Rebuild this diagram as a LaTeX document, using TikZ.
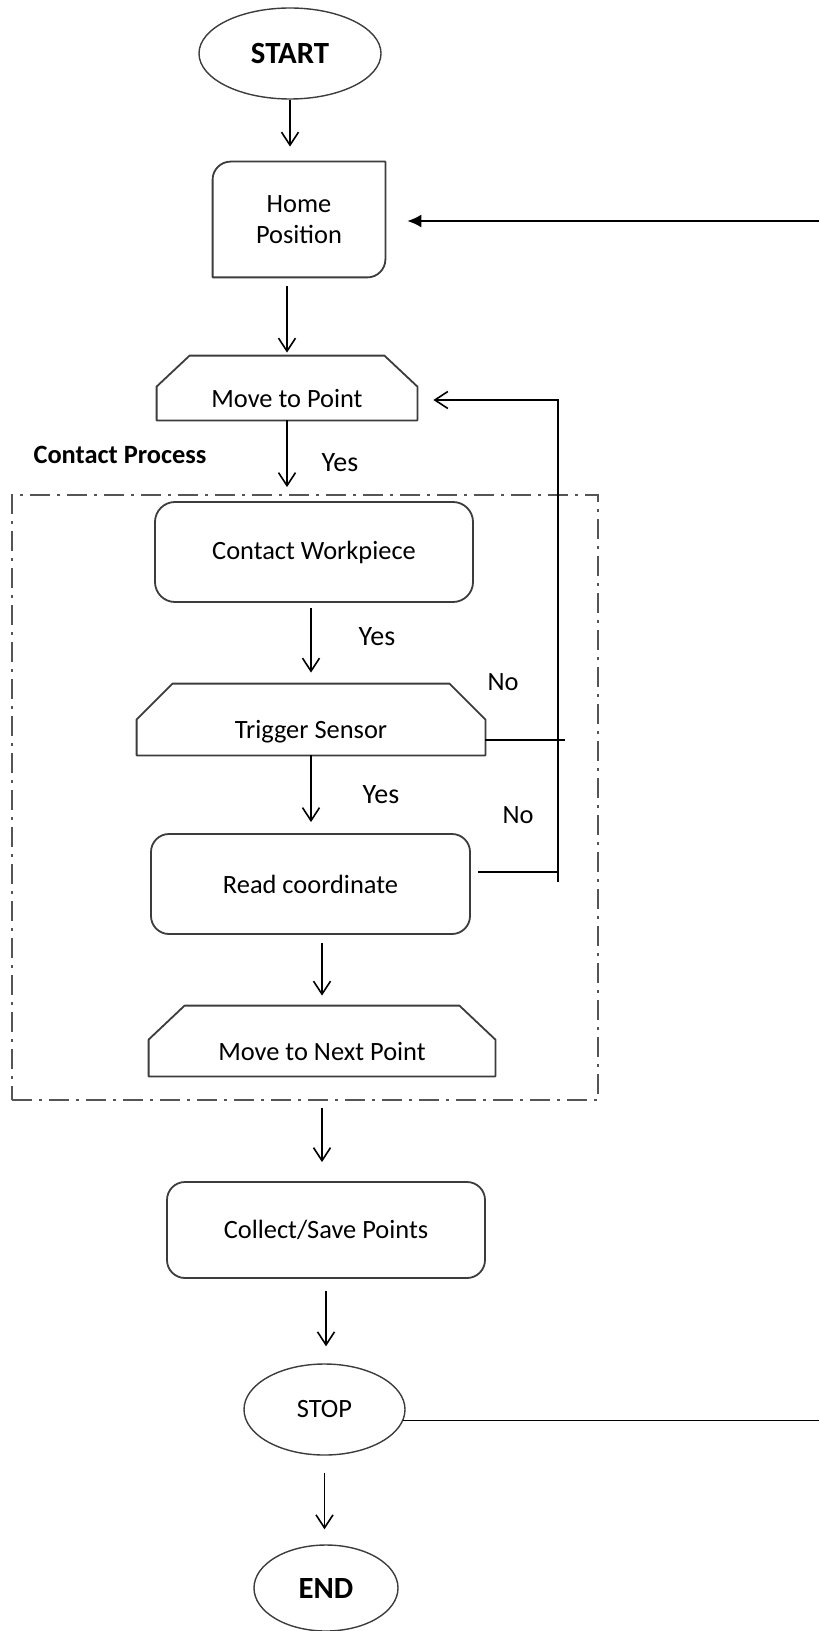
\documentclass[tikz,border=0pt]{standalone}
\usepackage{fontspec}
\setmainfont{Carlito}
\usetikzlibrary{arrows.meta, calc, shapes.geometric}
\definecolor{boxgray}{HTML}{3C3C3C}
\definecolor{framegray}{HTML}{555555}
\def\fsz{\fontsize{13.2}{15.5}\selectfont}
\def\ysz{\fontsize{14}{16}\selectfont}
\def\fbig{\fontsize{15.4}{18}\selectfont\bfseries}
% outline with cut top corners
\newcommand{\chamferbox}[3]{%
  \draw[boxline] (#1.south west) -- ([yshift=-#3]#1.north west) -- ([xshift=#2]#1.north west)
    -- ([xshift=-#2]#1.north east) -- ([yshift=-#3]#1.north east) -- (#1.south east) -- cycle;}
% outline with two round corners (top left, bottom right)
\newcommand{\cornerbox}[2]{%
  \draw[boxline] (#1.south west) -- ([yshift=-#2]#1.north west)
    .. controls ([yshift=-0.45*#2]#1.north west) and ([xshift=0.45*#2]#1.north west) .. ([xshift=#2]#1.north west)
    -- (#1.north east) -- ([yshift=#2]#1.south east)
    .. controls ([yshift=0.45*#2]#1.south east) and ([xshift=-0.45*#2]#1.south east) .. ([xshift=-#2]#1.south east) -- cycle;}
\tikzset{
  terminal/.style={ellipse, draw=boxgray, line width=0.7pt, inner sep=0pt},
  procbox/.style={rectangle, draw=boxgray, line width=0.9pt, rounded corners=9pt, inner sep=0pt, font=\fsz},
  shapebox/.style={rectangle, inner sep=0pt, font=\fsz},
  chamfer/.style={text height=22pt, text depth=3pt},
  boxline/.style={draw=boxgray, line width=0.9pt, line join=round},
  flow/.style={-{Straight Barb[length=6.5pt,width=8.5pt]}, line width=0.8pt},
  plain/.style={line width=0.8pt},
  tag/.style={font=\fsz, inner sep=0pt},
  groupbox/.style={draw=framegray, line width=1pt, dash pattern=on 10pt off 3.5pt on 1.5pt off 3.5pt, inner sep=0pt}
}

\begin{document}
\begin{tikzpicture}[x=0.5pt, y=-0.5pt]
\useasboundingbox (0,0) rectangle (819,1631);

% main column
\node[terminal, minimum width=91pt, minimum height=45.5pt, font=\fbig] (start) at (290,53.5) {START};
\node[shapebox, minimum width=86pt, minimum height=57.5pt, align=center] (home) at (299,219.5) {Home\\Position};
\cornerbox{home}{9pt}
\node[shapebox, chamfer, minimum width=130pt, minimum height=32pt] (mp) at (287,388) {Move to Point};
\chamferbox{mp}{16.5pt}{15.5pt}

% contact process group
\node[groupbox, minimum width=293pt, minimum height=302.5pt] (frame) at (305,797.5) {};
\node[tag, font=\fsz\bfseries] (cplabel) at (120,455) {Contact Process};

\node[procbox, minimum width=159pt, minimum height=50pt, rounded corners=10pt] (cw) at (314,552) {Contact Workpiece};
\node[shapebox, chamfer, minimum width=174pt, minimum height=35.5pt] (ts) at (311,719.5) {Trigger Sensor};
\chamferbox{ts}{18pt}{18pt}
\node[procbox, minimum width=159.5pt, minimum height=50pt] (rc) at (310.5,884) {Read coordinate};
\node[shapebox, chamfer, minimum width=173pt, minimum height=35pt] (mn) at (322,1041) {Move to Next Point};
\chamferbox{mn}{18pt}{17pt}

\node[procbox, minimum width=159pt, minimum height=48pt] (cs) at (326,1230) {Collect/Save Points};
\node[terminal, minimum width=80.5pt, minimum height=45.5pt, font=\fsz] (stop) at (324.5,1409.5) {STOP};
\node[terminal, minimum width=72pt, minimum height=43pt, font=\fbig] (finish) at (326,1588) {END};

% labels
\node[tag, font=\ysz] (yes1) at (340,463) {Yes};
\node[tag, font=\ysz] (yes2) at (377,637) {Yes};
\node[tag, font=\ysz] (yes3) at (381,795) {Yes};
\node[tag] (no1) at (503,682) {No};
\node[tag] (no2) at (518,815) {No};

% arrows down
\draw[flow, shorten >=7.5pt] (start.south) -- (start.south |- home.north);
\draw[flow, shorten <=4.5pt, shorten >=1.5pt] (home.south -| mp.north) -- (mp.north);
\draw[flow, shorten >=7pt] (mp.south) -- (mp.south |- cw.north);
\draw[flow, shorten <=2.5pt, shorten >=5.5pt] (cw.south -| ts.north) -- (ts.north);
\draw[flow, shorten >=5.5pt] (ts.south) -- (ts.south |- rc.north);
\draw[flow, shorten <=4pt, shorten >=5pt] (rc.south -| mn.north) -- (mn.north);
\draw[flow, shorten <=16pt, shorten >=9.5pt] (mn.south) -- (mn.south |- cs.north);
\draw[flow, shorten <=6pt, shorten >=8.5pt] (cs.south) -- (cs.south |- stop.north);
\draw[flow, shorten <=8.5pt, shorten >=7.5pt] (stop.south) -- (stop.south |- finish.north);

% No loop back to Move to Point
\coordinate (loopbot) at (558,882);
\coordinate (looptop) at (558,400);
\draw[plain, shorten <=3.5pt] ([yshift=6pt]rc.east) -- ([yshift=6pt]rc.east -| loopbot);
\draw[plain] ([yshift=-10.25pt]ts.east) -- ++(40pt,0);
\draw[flow, shorten >=8pt] (loopbot) -- (looptop) -- (looptop -| mp.east);

% return lines at right edge
\coordinate (rtop) at (819,221);
\coordinate (rbot) at (819,1421);
\draw[line width=0.8pt, -{Latex[length=7pt,width=6.5pt]}, shorten >=11pt] (rtop) -- (rtop -| home.east);
\draw[plain] (stop.-8) -- (stop.-8 -| rbot);
\end{tikzpicture}
\end{document}
